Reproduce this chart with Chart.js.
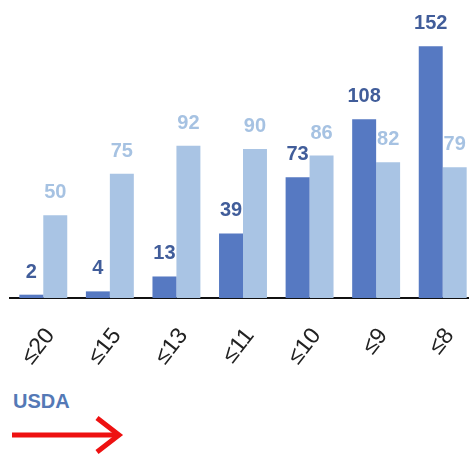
<!DOCTYPE html>
<html>
<head>
<meta charset="utf-8">
<script src="https://cdn.jsdelivr.net/npm/chart.js@4"></script>
<style>
  html, body { margin: 0; padding: 0; background: #fff; overflow: hidden; }
  body { width: 469px; height: 455px; position: relative; font-family: "Liberation Sans", Arial, sans-serif; }
  #wrap { position: absolute; left: 0; top: 0; width: 480px; height: 380px; }
  #src { position: absolute; left: 13px; top: 392px; font-size: 20px; line-height: 19px; font-weight: bold; color: #5479b6; }
  #arrow { position: absolute; left: 0; top: 410px; }
</style>
</head>
<body>
<div id="wrap"><canvas id="c" width="480" height="380"></canvas></div>
<div id="src">USDA</div>
<svg id="arrow" width="140" height="45" viewBox="0 0 140 45">
  <line x1="12" y1="25" x2="118" y2="25" stroke="#ee1111" stroke-width="5"/>
  <polyline points="97,8 119,25 97,42" fill="none" stroke="#ee1111" stroke-width="5" stroke-linejoin="miter"/>
</svg>
<script>
// Grouped bars, two series per threshold
const categories = ['≤20', '≤15', '≤13', '≤11', '≤10', '≤9', '≤8'];
const darkValues = [2, 4, 13, 39, 73, 108, 152];
const lightValues = [50, 75, 92, 90, 86, 82, 79];

const DARK = '#5679c2';
const LIGHT = '#a9c4e4';
const DARK_LABEL = '#415d9a';
const LIGHT_LABEL = '#a6c2e2';

// values above each bar; light ones go in before the dark bars are painted
const valueLabels = {
  id: 'valueLabels',
  afterDatasetDraw(chart, args) {
    const ds = chart.data.datasets[args.index];
    const ctx = chart.ctx;
    ctx.save();
    ctx.font = 'bold 20px "Liberation Sans", Arial, sans-serif';
    ctx.textAlign = 'center';
    ctx.textBaseline = 'alphabetic';
    ctx.fillStyle = args.index === 0 ? DARK_LABEL : LIGHT_LABEL;
    args.meta.data.forEach((bar, i) => {
      ctx.fillText(String(ds.data[i]), bar.x, bar.y - 17);
    });
    ctx.restore();
  }
};

new Chart(document.getElementById('c'), {
  type: 'bar',
  data: {
    labels: categories,
    datasets: [
      { data: darkValues, backgroundColor: DARK },
      { data: lightValues, backgroundColor: LIGHT }
    ]
  },
  options: {
    responsive: false,
    animation: false,
    layout: { padding: { left: 10, right: 4, top: 0, bottom: 0 } },
    datasets: { bar: { barPercentage: 1, categoryPercentage: 0.72 } },
    plugins: { legend: { display: false }, tooltip: { enabled: false } },
    scales: {
      x: {
        grid: { display: false, drawTicks: false },
        border: { display: true, color: '#111', width: 2 },
        ticks: {
          color: '#222',
          font: { family: '"Liberation Sans", Arial, sans-serif', size: 23 },
          minRotation: 52, maxRotation: 52,
          padding: 25, labelOffset: 7
        },
        afterFit: s => {
          s.height = 82;
          // rotated labels fit inside the category offset, no side padding needed
          s.paddingLeft = 0;
          s.paddingRight = 0;
        }
      },
      y: { display: false, min: 0, max: 180 }
    }
  },
  plugins: [valueLabels]
});
</script>
</body>
</html>
